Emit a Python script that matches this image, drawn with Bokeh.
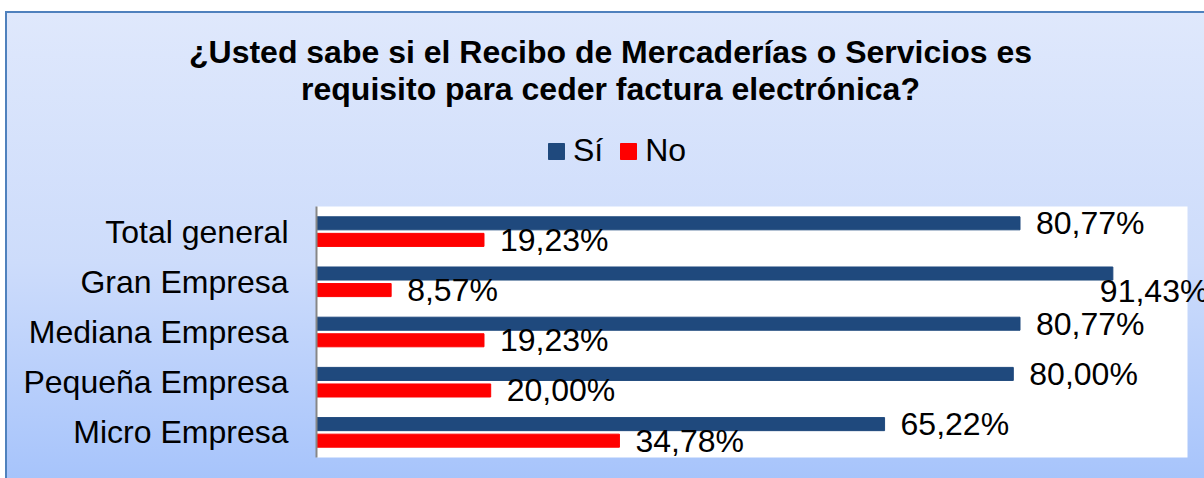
from bokeh.plotting import figure
from bokeh.models import (ColumnDataSource, Range1d, Legend, LegendItem, LabelSet, Label,
                          LinearAxis, FixedTicker, BoxAnnotation)
from bokeh.core.properties import value
from bokeh.transform import dodge
from bokeh.embed import file_html
from bokeh.resources import INLINE

# ---- data ----
categories = ["Total general", "Gran Empresa", "Mediana Empresa", "Pequeña Empresa", "Micro Empresa"]
si_values = [80.77, 91.43, 80.77, 80.00, 65.22]
no_values = [19.23, 8.57, 19.23, 20.00, 34.78]
series_names = ["Sí", "No"]
title_lines = ["¿Usted sabe si el Recibo de Mercaderías o Servicios es",
               "requisito para ceder factura electrónica?"]

# ---- layout / style ----
FONT = "Liberation Sans"
SI_COLOR = "#1f497d"
NO_COLOR = "#ff0000"
FS = "32px"
W, H = 1204, 478
PLOT_LEFT, PLOT_TOP, PLOT_W, PLOT_H = 316, 206, 871, 251
X_MAX = 100


def fmt(v):
    return f"{v:.2f}".replace(".", ",") + "%"


n = len(categories)
positions = [n - 1 - i for i in range(n)]          # Total general at the top
ppx = PLOT_W / X_MAX                               # pixels per x unit
ppy = PLOT_H / n                                   # pixels per category
x_range = Range1d(-PLOT_LEFT / ppx, (W - PLOT_LEFT) / ppx)
y_bottom = -0.5 - (H - PLOT_TOP - PLOT_H) / ppy
y_range = Range1d(y_bottom, y_bottom + H / ppy)

p = figure(x_range=x_range, y_range=y_range, x_axis_type=None, y_axis_type=None,
           frame_width=W, frame_height=H, min_border=0,
           min_border_left=0, min_border_right=0, min_border_top=0, min_border_bottom=0,
           output_backend="svg", toolbar_location=None)
p.border_fill_color = None
p.background_fill_color = None
p.outline_line_color = None
p.grid.visible = False
p.styles = {
    "background": "linear-gradient(to bottom, #ffffff 0px, #ffffff 11px, transparent 11px), "
                  "linear-gradient(to right, #ffffff 0px, #ffffff 5px, #4f81bd 5px, #4f81bd 7px, transparent 7px), "
                  "linear-gradient(to bottom, #4f81bd 0px, #4f81bd 13px, #dfe8fc 13px, #cddcfb 55%, #a7c4fb 100%)",
}

# white plot area
p.add_layout(BoxAnnotation(left=0, right=X_MAX, bottom=-0.5, top=n - 0.5,
                           fill_color="white", fill_alpha=1, line_color=None, level="underlay"))

# category axis at x = 0
yax = LinearAxis(fixed_location=0, bounds=(-0.5, n - 0.5),
                 ticker=FixedTicker(ticks=positions),
                 major_label_overrides={pos: c for pos, c in zip(positions, categories)})
yax.major_tick_out = 0
yax.major_tick_in = 0
yax.minor_tick_out = 0
yax.minor_tick_in = 0
yax.axis_line_color = "#868686"
yax.axis_line_width = 2
yax.major_label_standoff = 28
yax.major_label_text_font = FONT
yax.major_label_text_font_size = FS
yax.major_label_text_color = "black"
p.add_layout(yax, "left")

OFF = 0.165
BH = 0.26
overflow = [v > 88 for v in si_values]
src = ColumnDataSource(dict(
    pos=positions, si=si_values, no=no_values,
    si_label=[fmt(v) for v in si_values], no_label=[fmt(v) for v in no_values],
    si_xoff=[-13 if o else 16 for o in overflow], si_yoff=[-17 if o else 0 for o in overflow],
))

r_si = p.hbar(y=dodge("pos", OFF), left=0, right="si", height=BH, source=src,
              fill_color=SI_COLOR, line_color=SI_COLOR)
r_no = p.hbar(y=dodge("pos", -OFF), left=0, right="no", height=BH, source=src,
              fill_color=NO_COLOR, line_color=NO_COLOR)

p.add_layout(LabelSet(x="si", y=dodge("pos", OFF), text="si_label", source=src,
                      x_offset="si_xoff", y_offset="si_yoff", text_baseline="middle",
                      text_font=value(FONT), text_font_size=value(FS), text_color="black"))
p.add_layout(LabelSet(x="no", y=dodge("pos", -OFF), text="no_label", source=src,
                      x_offset=16, text_baseline="middle",
                      text_font=value(FONT), text_font_size=value(FS), text_color="black"))

legend = Legend(items=[LegendItem(label=series_names[0], renderers=[r_si]),
                       LegendItem(label=series_names[1], renderers=[r_no])],
                orientation="horizontal", location=(546, 309),
                glyph_width=20, glyph_height=20, label_standoff=7, spacing=15,
                padding=0, margin=0, border_line_color=None, background_fill_alpha=0,
                label_text_font=FONT, label_text_font_size=FS, label_text_color="black")
p.add_layout(legend)

for i, line in enumerate(title_lines):
    p.add_layout(Label(x=610, y=H - 51 - 37 * i, x_units="screen", y_units="screen", text=line,
                       text_align="center", text_baseline="alphabetic",
                       text_font=FONT, text_font_size=FS, text_font_style="bold",
                       text_color="black"))

open("out.html", "w").write(file_html(p, INLINE))
